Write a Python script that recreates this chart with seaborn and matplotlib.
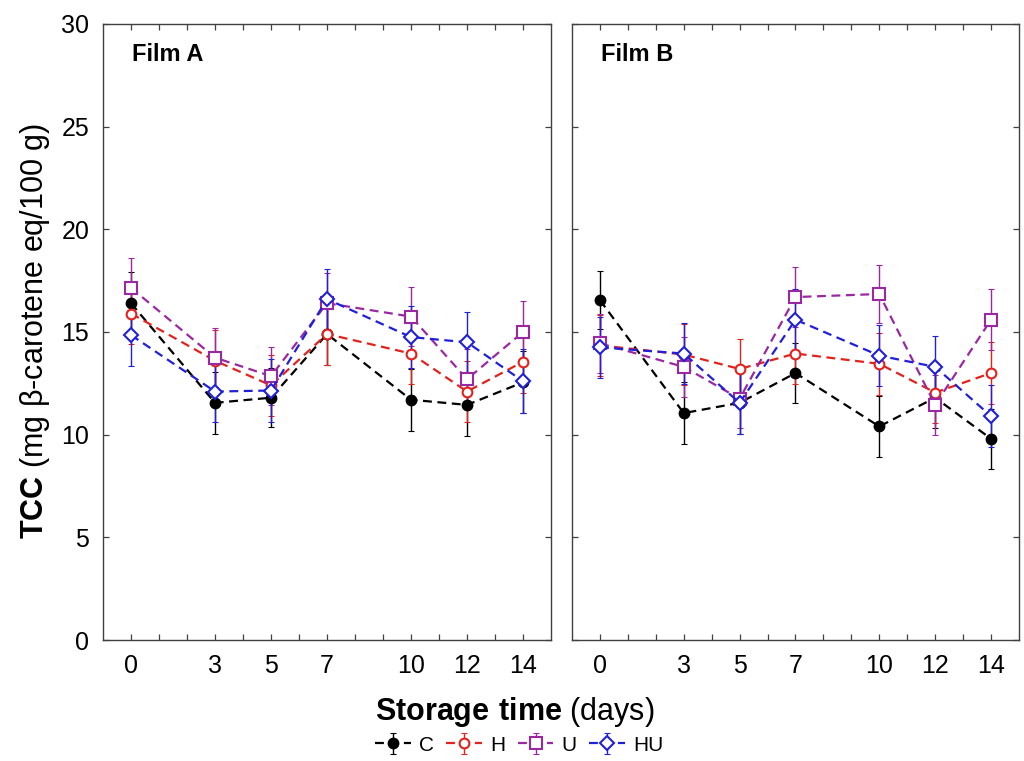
import numpy as np
import pandas as pd
import matplotlib
matplotlib.use("Agg")
import matplotlib.pyplot as plt
from matplotlib.legend_handler import HandlerTuple
import seaborn as sns

days = [0, 3, 5, 7, 10, 12, 14]
treatments = ['C', 'H', 'U', 'HU']

film_a = {
    'C': [16.4, 11.55, 11.8, 14.9, 11.7, 11.45, 12.55],
    'H': [15.9, 13.6, 12.4, 14.9, 13.95, 12.1, 13.55],
    'U': [17.15, 13.75, 12.85, 16.4, 15.75, 12.7, 15.0],
    'HU': [14.85, 12.1, 12.15, 16.6, 14.75, 14.5, 12.6],
}
film_a_sd = {
    'C': [1.5, 1.5, 1.45, 1.5, 1.5, 1.5, 1.5],
    'H': [1.5, 1.5, 1.5, 1.5, 1.5, 1.5, 1.5],
    'U': [1.45, 1.45, 1.4, 1.45, 1.45, 1.45, 1.5],
    'HU': [1.5, 1.5, 1.55, 1.45, 1.5, 1.45, 1.55],
}
film_b = {
    'C': [16.55, 11.05, 11.55, 13.0, 10.4, 11.8, 9.8],
    'H': [14.35, 13.9, 13.2, 13.95, 13.45, 12.05, 13.0],
    'U': [14.45, 13.3, 11.75, 16.7, 16.85, 11.45, 15.6],
    'HU': [14.25, 13.95, 11.55, 15.6, 13.85, 13.3, 10.9],
}
film_b_sd = {
    'C': [1.42, 1.5, 1.5, 1.47, 1.5, 1.5, 1.45],
    'H': [1.5, 1.5, 1.48, 1.5, 1.5, 1.5, 1.5],
    'U': [1.45, 1.45, 1.45, 1.45, 1.4, 1.45, 1.47],
    'HU': [1.5, 1.5, 1.5, 1.5, 1.5, 1.5, 1.5],
}

colors = {'C': 'black', 'H': '#e3221c', 'U': '#9b28a3', 'HU': '#2020dc'}
markers = {'C': 'o', 'H': 'o', 'U': 's', 'HU': 'D'}
mfc = {'C': 'black', 'H': 'white', 'U': 'white', 'HU': 'white'}
msize = {'C': 7, 'H': 7, 'U': 8, 'HU': 7}

sns.set_style('ticks')
plt.rcParams['font.family'] = ['Liberation Sans', 'DejaVu Sans']
plt.rcParams['mathtext.fontset'] = 'custom'
plt.rcParams['mathtext.rm'] = 'Liberation Sans'
plt.rcParams['mathtext.bf'] = 'Liberation Sans:bold'
plt.rcParams['xtick.direction'] = 'in'
plt.rcParams['ytick.direction'] = 'in'
plt.rcParams['text.color'] = 'black'
plt.rcParams['xtick.labelcolor'] = 'black'
plt.rcParams['ytick.labelcolor'] = 'black'

fig = plt.figure(figsize=(10.24, 7.61), dpi=100)
ax_a = fig.add_axes([0.1006, 0.159, 0.4375, 0.8095])
ax_b = fig.add_axes([0.5586, 0.159, 0.4365, 0.8095])

handles = {}
for ax, vals, sds, title in [(ax_a, film_a, film_a_sd, 'Film A'),
                             (ax_b, film_b, film_b_sd, 'Film B')]:
    for t in treatments:
        df = pd.DataFrame({'day': days, 'tcc': vals[t], 'sd': sds[t]})
        err = ax.errorbar(df['day'], df['tcc'], yerr=df['sd'], fmt='none',
                          ecolor=colors[t], elinewidth=1.0, capsize=2,
                          capthick=0.8, zorder=2)
        sns.lineplot(data=df, x='day', y='tcc', ax=ax, color=colors[t],
                     marker=markers[t], markersize=msize[t],
                     markerfacecolor=mfc[t], markeredgecolor=colors[t],
                     markeredgewidth=1.5, linestyle=(0, (4, 2.5)),
                     linewidth=1.6, zorder=3, legend=False)
        if ax is ax_a:
            handles[t] = (err, ax.lines[-1])

    ax.set_xlim(-1, 15)
    ax.set_ylim(0, 30)
    ax.set_xticks(range(0, 15))
    ax.set_xticklabels([str(d) if d in days else '' for d in range(0, 15)])
    ax.set_yticks(range(0, 31, 5))
    ax.tick_params(axis='both', which='both', top=True, right=True,
                   length=4, width=0.9, color='#404040', labelsize=18,
                   pad=10)
    ax.set_xlabel('')
    ax.set_ylabel('')
    for s in ax.spines.values():
        s.set_color('#404040')
        s.set_linewidth(1.0)
    ax.text(0.065, 0.95, title, transform=ax.transAxes, fontsize=17,
            fontweight='bold', ha='left', va='center')

ax_b.set_yticklabels([])

fig.text(0.034, 0.565, r'$\mathbf{TCC}$ (mg β-carotene eq/100 g)',
         rotation=90, fontsize=22, ha='center', va='center')
fig.text(0.503, 0.064, r'$\mathbf{Storage\ time}$ (days)',
         fontsize=22, ha='center', va='center')

fig.legend([handles[t] for t in treatments], treatments,
           handler_map={tuple: HandlerTuple(ndivide=1)},
           loc='center', bbox_to_anchor=(0.507, 0.021), ncol=4,
           frameon=False, fontsize=15, handlelength=1.7,
           columnspacing=0.6, handletextpad=0.4)

fig.savefig('out.png', dpi=100)
